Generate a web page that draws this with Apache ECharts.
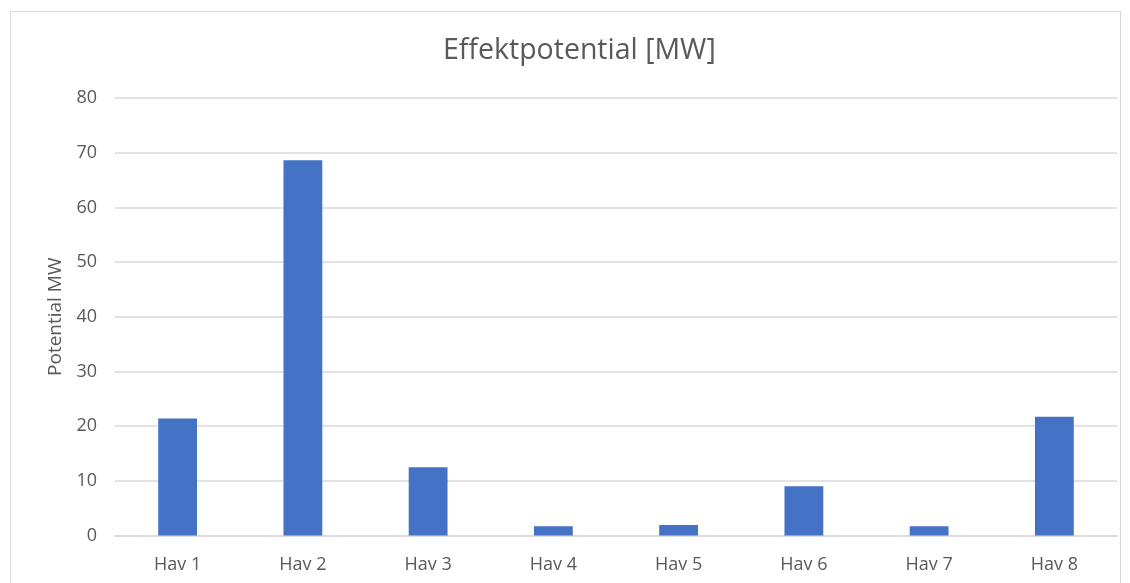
<!DOCTYPE html>
<html>
<head>
<meta charset="utf-8">
<script src="https://cdn.jsdelivr.net/npm/echarts@6/dist/echarts.min.js"></script>
<style>
html,body{margin:0;padding:0;background:#fff;}
#frame{position:absolute;left:10px;top:11px;width:1111px;height:580px;border:1px solid #d9d9d9;box-sizing:border-box;}
#chart{position:absolute;left:0;top:0;width:1130px;height:583px;}
</style>
</head>
<body>
<div id="frame"></div>
<div id="chart"></div>
<script>
const categories = ['Hav 1','Hav 2','Hav 3','Hav 4','Hav 5','Hav 6','Hav 7','Hav 8'];
const values = [21.4, 68.6, 12.5, 1.7, 1.9, 9.0, 1.7, 21.7];
const yTicks = {min: 0, max: 80, interval: 10};

const chart = echarts.init(document.getElementById('chart'));
chart.setOption({
  animation: false,
  textStyle: {fontFamily: 'Open Sans'},
  title: {
    text: 'Effektpotential [MW]',
    left: 438,
    top: 31,
    textStyle: {fontFamily: 'Open Sans', fontSize: 28.5, fontWeight: 'normal', color: '#595959'}
  },
  grid: {left: 115, right: 13, top: 98, bottom: 47.5, containLabel: false},
  xAxis: {
    type: 'category',
    data: categories,
    axisLine: {show: true, lineStyle: {color: '#d9d9d9', width: 1.5}},
    axisTick: {show: false},
    axisLabel: {color: '#595959', fontSize: 18, margin: 20}
  },
  yAxis: {
    type: 'value',
    min: yTicks.min, max: yTicks.max, interval: yTicks.interval,
    name: 'Potential MW',
    nameLocation: 'middle',
    nameGap: 50,
    nameTextStyle: {color: '#595959', fontSize: 19},
    axisLine: {show: false},
    axisTick: {show: false},
    axisLabel: {color: '#595959', fontSize: 18, margin: 18},
    splitLine: {lineStyle: {color: '#d9d9d9', width: 1.5}}
  },
  series: [{
    type: 'bar',
    data: values,
    barWidth: '31%',
    itemStyle: {color: '#4472c4'}
  }]
});
</script>
</body>
</html>
